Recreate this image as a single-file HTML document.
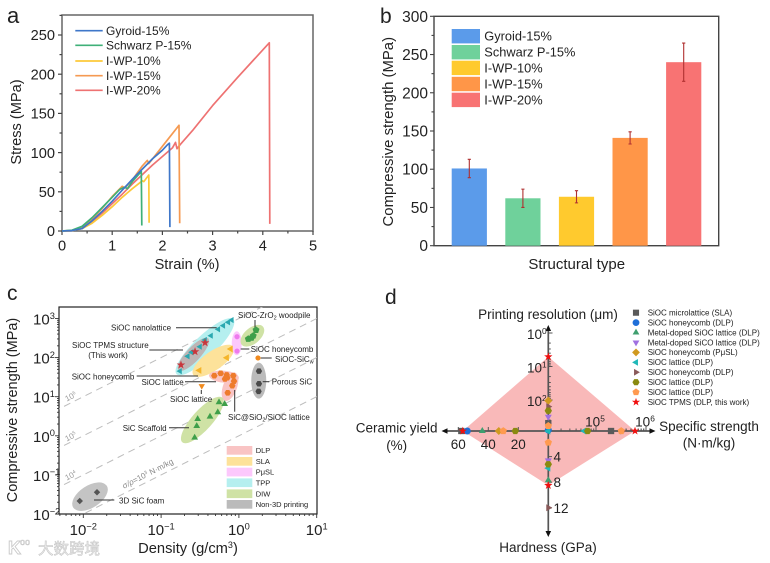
<!DOCTYPE html>
<html lang="en">
<head>
<meta charset="utf-8">
<title>SiOC TPMS mechanical properties</title>
<style>
html,body{margin:0;padding:0;background:#fff;width:770px;height:563px;overflow:hidden}
svg{display:block;filter:blur(0.3px)}
text{font-family:"Liberation Sans","Noto Sans CJK SC",sans-serif;fill:#222}
</style>
</head>
<body>
<svg id="fig" xmlns="http://www.w3.org/2000/svg" width="770" height="563" viewBox="0 0 770 563">
<defs><clipPath id="clip-c"><rect x="59" y="307" width="258" height="207"/></clipPath></defs>
<rect x="0" y="0" width="770" height="563" fill="#fff"/>

<g id="panel-a">
  <text x="7" y="23" font-size="22">a</text>
  <rect x="62" y="15" width="251" height="216" fill="none" stroke="#666" stroke-width="1.5"/>
  <text x="187" y="269" font-size="14.6" text-anchor="middle">Strain (%)</text>
  <text transform="translate(21,122) rotate(-90)" font-size="14.6" text-anchor="middle">Stress (MPa)</text>
</g>

<g id="panel-b">
  <text x="380" y="23" font-size="21">b</text>
  <rect x="434" y="16.3" width="284.7" height="229.4" fill="none" stroke="#444" stroke-width="1.4"/>
  <text x="576.7" y="269" font-size="15" text-anchor="middle">Structural type</text>
  <text transform="translate(393,131.7) rotate(-90)" font-size="14.9" text-anchor="middle">Compressive strength (MPa)</text>
</g>

<g id="panel-c">
  <text x="7" y="300" font-size="21">c</text>
  <rect x="59" y="307" width="258" height="207" fill="none" stroke="#222" stroke-width="1.2"/>
  <g id="c-lines" clip-path="url(#clip-c)"></g>
  <g id="c-regions"></g>
  <g fill="#888">
    <text transform="translate(72,399) rotate(-27)" font-size="8" text-anchor="middle" style="fill:#999">10<tspan dy="-3" font-size="5">6</tspan></text>
    <text transform="translate(72,439) rotate(-27)" font-size="8" text-anchor="middle" style="fill:#999">10<tspan dy="-3" font-size="5">5</tspan></text>
    <text transform="translate(72,478) rotate(-27)" font-size="8" text-anchor="middle" style="fill:#999">10<tspan dy="-3" font-size="5">4</tspan></text>
    <text transform="translate(149,476) rotate(-27)" font-size="8" text-anchor="middle" style="fill:#888"><tspan font-style="italic">σ/ρ</tspan>=10<tspan dy="-3" font-size="5">3</tspan><tspan dy="3"> N·m/kg</tspan></text>
  </g>
  <g font-size="8">
    <text x="111" y="330.5" font-size="8">SiOC nanolattice</text>
    <text x="72" y="348" font-size="8">SiOC TPMS structure</text>
    <text x="108" y="358" font-size="8" text-anchor="middle">(This work)</text>
    <text x="71.7" y="379.5" font-size="8">SiOC honeycomb</text>
    <text x="141.5" y="385" font-size="8">SiOC lattice</text>
    <text x="170" y="402" font-size="8">SiOC lattice</text>
    <text x="122.7" y="431" font-size="8">SiC Scaffold</text>
    <text x="228" y="420" font-size="8">SiC@SiO<tspan dy="1.5" font-size="5.5">2</tspan><tspan dy="-1.5">/SiOC lattice</tspan></text>
    <text x="271.7" y="384.5" font-size="8">Porous SiC</text>
    <text x="275" y="362" font-size="8">SiOC-SiC<tspan dy="1.5" font-size="5.5">w</tspan></text>
    <text x="250.7" y="352" font-size="8">SiOC honeycomb</text>
    <text x="238" y="318" font-size="8">SiOC-ZrO<tspan dy="1.5" font-size="5.5">2</tspan><tspan dy="-1.5"> woodpile</tspan></text>
    <text x="119" y="503.5" font-size="8">3D SiC foam</text>
    <g stroke="#333" stroke-width="1" fill="none">
      <path d="M176 327.7H216.7"/>
      <path d="M149.3 350H183"/>
      <path d="M136.7 376H198"/>
      <path d="M185 381.7H216"/>
      <path d="M201.3 390V394"/>
      <path d="M169 427.7H189"/>
      <path d="M234.7 390V411.7"/>
      <path d="M262.7 381.7H269.3"/>
      <path d="M260.7 358H271.7"/>
      <path d="M240.7 349H249.3"/>
      <path d="M255 320V327.7"/>
      <path d="M94 500H114.3"/>
    </g>
  </g>
  <g font-size="7.5">
    <rect x="226.7" y="446" width="25.6" height="8.7" fill="#f9c4c4"/>
    <rect x="226.7" y="457" width="25.6" height="8.7" fill="#fde29a"/>
    <rect x="226.7" y="467.7" width="25.6" height="8.7" fill="#fcc8fc"/>
    <rect x="226.7" y="478.4" width="25.6" height="8.7" fill="#b5efef"/>
    <rect x="226.7" y="489.4" width="25.6" height="8.7" fill="#cfe2a5"/>
    <rect x="226.7" y="500" width="25.6" height="8.7" fill="#bbb"/>
    <text x="255.7" y="453" font-size="7.5">DLP</text>
    <text x="255.7" y="464" font-size="7.5">SLA</text>
    <text x="255.7" y="474.7" font-size="7.5">PμSL</text>
    <text x="255.7" y="485.4" font-size="7.5">TPP</text>
    <text x="255.7" y="496.4" font-size="7.5">DIW</text>
    <text x="255.7" y="507" font-size="7.5">Non-3D printing</text>
  </g>
  <text x="188" y="553" font-size="14.7" text-anchor="middle">Density (g/cm<tspan dy="-5" font-size="9">3</tspan><tspan dy="5">)</tspan></text>
  <text transform="translate(17,410) rotate(-90)" font-size="14.5" text-anchor="middle">Compressive strength (MPa)</text>
  <g opacity="0.9">
    <text x="8" y="554" font-size="18" font-weight="bold" style="fill:#fff;stroke:#c4c4c4;stroke-width:0.9">K</text>
    <text x="20" y="545" font-size="9" style="fill:#fff;stroke:#c4c4c4;stroke-width:0.6">oo</text>
    <text x="38" y="554" font-size="15.5" style="fill:#ececec;stroke:#bcbcbc;stroke-width:0.5">大数跨境</text>
  </g>
</g>

<g id="panel-d">
  <text x="385" y="304" font-size="21">d</text>
  <text x="548" y="319" font-size="13.5" text-anchor="middle">Printing resolution (μm)</text>
  <text x="396.7" y="432.5" font-size="13.5" text-anchor="middle">Ceramic yield</text>
  <text x="396.7" y="450" font-size="13.5" text-anchor="middle">(%)</text>
  <text x="709" y="431" font-size="13.5" text-anchor="middle">Specific strength</text>
  <text x="709" y="447.7" font-size="13.5" text-anchor="middle">(N·m/kg)</text>
  <text x="548" y="552" font-size="13.5" text-anchor="middle">Hardness (GPa)</text>
  <g id="d-legend"></g>
</g>
</svg>

<script>
// ---------- Panel a data ----------
const curveNames = ['Gyroid-15%', 'Schwarz P-15%', 'I-WP-10%', 'I-WP-15%', 'I-WP-20%'];
const gyroidStrain = [0, .2, .4, .6, .8, 1, 1.2, 1.4, 1.6, 1.8, 2, 2.1, 2.14, 2.15];
const gyroidStress = [0, .5, 3, 13, 25, 38, 52, 66, 79, 92, 103, 110, 112, 5];
const schwarzStrain = [0, .2, .4, .6, .8, 1, 1.15, 1.25, 1.3, 1.4, 1.58, 1.59];
const schwarzStress = [0, 1, 6, 17, 30, 43, 53, 56, 54, 63, 76, 7];
const wp10Strain = [0, .2, .4, .6, .8, 1, 1.2, 1.4, 1.6, 1.63, 1.73, 1.735];
const wp10Stress = [0, .5, 3, 10, 20, 31, 43, 54, 64, 63, 71.4, 10.5];
const wp15Strain = [0, .2, .4, .6, .8, 1, 1.2, 1.25, 1.4, 1.6, 1.7, 1.73, 2, 2.33, 2.345];
const wp15Stress = [0, .5, 5, 15, 29, 44, 57, 55, 65, 83, 90, 86, 108, 134.8, 10];
const wp20Strain = [0, .2, .4, .6, .8, 1, 1.2, 1.4, 1.6, 1.8, 2, 2.2, 2.26, 2.29, 2.35, 2.6, 3, 3.5, 4.13, 4.14];
const wp20Stress = [0, .5, 3, 12, 23, 35, 47, 60, 72, 84, 95, 106, 113, 105, 110, 128, 160, 196, 240, 9];
const aXTicks = [0, 1, 2, 3, 4, 5];
const aYTicks = [0, 50, 100, 150, 200, 250];

// ---------- Panel b data ----------
const barNames = ['Gyroid-15%', 'Schwarz P-15%', 'I-WP-10%', 'I-WP-15%', 'I-WP-20%'];
const barValues = [101, 62, 64, 141, 240];
const barErrors = [12, 12, 8, 8, 25];
const bYTicks = [0, 50, 100, 150, 200, 250, 300];

// ---------- Panel c data ----------
const guideStrengths = [1e3, 1e4, 1e5, 1e6];
const cXExps = [-2, -1, 0, 1];
const cYExps = [-2, -1, 0, 1, 2, 3];
const regionDensity = [0.366, 0.469, 0.938, 1.49, 1.8, 0.643, 0.769, 0.339, 0.26, 0.0122];
const regionStrength = [190, 83, 232, 363, 25.7, 32.5, 18, 2.54, 121, 0.0277];
const tppDensity = [.175, .22, .247, .316, .367, .438, .543, .63, .73, .81];
const tppStrength = [45, 108, 137, 190, 282, 363, 530, 655, 800, 912];
const tpmsDensity = [.18, .273, .367];
const tpmsStrength = [65, 142, 240];
const slaDensity = [.31, .70, .785];
const slaStrength = [47, 99, 166];
const puslDensity = [.946, .946];
const puslStrength = [342, 147];
const woodDensity = [1.66, 1.53, 1.32, 1.45];
const woodStrength = [508, 363, 300, 320];
const sicwDensity = [1.76];
const sicwStrength = [98];
const porousDensity = [1.81, 1.81, 1.79];
const porousStrength = [45, 21.4, 13.7];
const downDensity = [.333];
const downStrength = [18.8];
const dlpDensity = [.483, .583, .697, .662, .71, .847, .865, .822, .718];
const dlpStrength = [34.4, 39.6, 35.9, 28.4, 30.6, 34.4, 25, 19.1, 12.6];
const diwDensity = [.555, .656, .535, .425, .295, .287, .27];
const diwStrength = [7.2, 6.5, 4, 3.08, 2.69, 1.78, .893];
const foamDensity = [.009, .015];
const foamStrength = [.0215, .036];

// ---------- Panel d data ----------
const seriesNames = ['SiOC microlattice (SLA)', 'SiOC honeycomb (DLP)', 'Metal-doped SiOC lattice (DLP)', 'Metal-doped SiCO lattice (DLP)', 'SiOC honeycomb (PμSL)', 'SiOC lattice (DLP)', 'SiOC honeycomb (DLP)', 'SiOC lattice (DLP)', 'SiOC lattice (DLP)', 'SiOC TPMS (DLP, this work)'];
const seriesStrength = [2e5, null, null, null, null, 5.8e4, 3.4e5, 6.8e4, 3.2e5, 6.03e5];
const seriesResolution = [490, 790, null, 316, 105, 850, 158, 209, 590, 5.1];
const seriesHardness = [null, null, 7.7, 4.6, null, 5.8, 12, 5.2, 1.8, 8.5];
const seriesYield = [58, 54, 44, null, 33, null, null, 22, 30, 57];
const dYieldTicks = [20, 40, 60];
const dHardTicks = [4, 8, 12];
const dResExps = [0, 1, 2];
const dStrExps = [5, 6];

// ---------- helpers ----------
const NS = 'http://www.w3.org/2000/svg';
const root = document.getElementById('fig');
function mk(tag, attrs, parent) {
  const el = document.createElementNS(NS, tag);
  for (const k in attrs) el.setAttribute(k, attrs[k]);
  (parent || root).appendChild(el);
  return el;
}
function txt(parent, x, y, str, size, anchor, sup) {
  const t = mk('text', {x: x, y: y, 'font-size': size, 'text-anchor': anchor}, parent);
  t.textContent = str;
  if (sup !== undefined) {
    const s = mk('tspan', {dy: -size * 0.38, 'font-size': size * 0.62}, t);
    s.textContent = sup;
  }
  return t;
}
function polyPts(n, r, rot, cx, cy) {
  const out = [];
  for (let i = 0; i < n; i++) {
    const a = rot + i * 2 * Math.PI / n;
    out.push((cx + r * Math.cos(a)).toFixed(2) + ',' + (cy + r * Math.sin(a)).toFixed(2));
  }
  return out.join(' ');
}
function marker(parent, shape, cx, cy, r, color) {
  if (shape === 'circle') return mk('circle', {cx: cx, cy: cy, r: r, fill: color}, parent);
  if (shape === 'square') return mk('rect', {x: cx - r * .9, y: cy - r * .9, width: r * 1.8, height: r * 1.8, fill: color}, parent);
  let pts;
  if (shape === 'up') pts = polyPts(3, r * 1.15, -Math.PI / 2, cx, cy);
  else if (shape === 'down') pts = polyPts(3, r * 1.15, Math.PI / 2, cx, cy);
  else if (shape === 'left') pts = polyPts(3, r * 1.15, Math.PI, cx, cy);
  else if (shape === 'right') pts = polyPts(3, r * 1.15, 0, cx, cy);
  else if (shape === 'diamond') pts = polyPts(4, r * 1.15, 0, cx, cy);
  else if (shape === 'hex') pts = polyPts(6, r * 1.05, 0, cx, cy);
  else if (shape === 'pent') pts = polyPts(5, r * 1.1, -Math.PI / 2, cx, cy);
  else if (shape === 'star') {
    const o = [];
    for (let i = 0; i < 10; i++) {
      const a = -Math.PI / 2 + i * Math.PI / 5, q = i % 2 ? r * .5 : r * 1.25;
      o.push((cx + q * Math.cos(a)).toFixed(2) + ',' + (cy + q * Math.sin(a)).toFixed(2));
    }
    pts = o.join(' ');
  }
  return mk('polygon', {points: pts, fill: color}, parent);
}

// ---------- Panel a ----------
(function () {
  const g = document.getElementById('panel-a');
  const x = v => 62 + v * 50.2;
  const y = v => 231 - v * 0.784;
  for (let v = 0; v <= 5; v += .5) {
    const major = aXTicks.includes(v);
    const t = mk('line', {x1: x(v), x2: x(v), y1: 231, y2: major ? 235 : 233.5, stroke: '#444', 'stroke-width': 1.2}, g);
    
    
  }
  for (let v = 0; v <= 275; v += 25) {
    const major = aYTicks.includes(v);
    const t = mk('line', {x1: 62, x2: major ? 58 : 59.5, y1: y(v), y2: y(v), stroke: '#444', 'stroke-width': 1.2}, g);
    
    
  }
  aXTicks.forEach(v => {
    const t = txt(g, x(v), 250.5, String(v), 14.6, 'middle');
    
    
  });
  aYTicks.forEach(v => {
    const t = txt(g, 55, y(v) + 5.2, String(v), 14.6, 'end');
    
    
  });
  const xs = [gyroidStrain, schwarzStrain, wp10Strain, wp15Strain, wp20Strain];
  const ys = [gyroidStress, schwarzStress, wp10Stress, wp15Stress, wp20Stress];
  const colors = ['#3f77c9', '#3fb078', '#fdc93a', '#f59a52', '#ee7272'];
  const legendY = [30.7, 45.3, 61, 75.7, 90.3];
  [4, 3, 2, 1, 0].forEach(i => {
    const d = xs[i].map((v, j) => (j ? 'L' : 'M') + x(v).toFixed(1) + ' ' + y(ys[i][j]).toFixed(1)).join('');
    const p = mk('path', {d: d, fill: 'none', stroke: colors[i], 'stroke-width': 1.7, 'stroke-linejoin': 'round'}, g);
    
    
  });
  curveNames.forEach((n, i) => {
    const l = mk('line', {x1: 75.3, x2: 102.7, y1: legendY[i], y2: legendY[i], stroke: colors[i], 'stroke-width': 1.7}, g);
    
    
    const t = txt(g, 106, legendY[i] + 4.2, n, 12, 'start');
    
    
  });
})();

// ---------- Panel b ----------
(function () {
  const g = document.getElementById('panel-b');
  const y = v => 245.7 - v * 229.4 / 300;
  const x = i => 469.3 + i * 53.6;
  const colors = ['#5b9bea', '#6fd19b', '#ffca2e', '#ff9648', '#f87373'];
  for (let v = 0; v <= 300; v += 25) {
    const major = bYTicks.includes(v);
    const t = mk('line', {x1: 434, x2: major ? 430 : 431.5, y1: y(v), y2: y(v), stroke: '#444', 'stroke-width': 1.1}, g);
    
    
  }
  bYTicks.forEach(v => {
    const t = txt(g, 428, y(v) + 5.5, String(v), 15.5, 'end');
    
    
  });
  barValues.forEach((v, i) => {
    const r = mk('rect', {x: x(i) - 17.6, y: y(v), width: 35.2, height: y(0) - y(v), fill: colors[i]}, g);
    
    
    const top = y(v + barErrors[i]), bot = y(v - barErrors[i]);
    const e = mk('path', {d: 'M' + x(i) + ' ' + top + 'V' + bot + 'M' + (x(i) - 1.6) + ' ' + top + 'h3.2M' + (x(i) - 1.6) + ' ' + bot + 'h3.2', stroke: '#b03030', 'stroke-width': 1.1, fill: 'none'}, g);
    
    
  });
  const ly = [36.2, 52.2, 67.9, 84, 99.9];
  barNames.forEach((n, i) => {
    const s = mk('rect', {x: 451.7, y: ly[i] - 7.2, width: 28.3, height: 14.4, fill: colors[i]}, g);
    
    
    const t = txt(g, 484.3, ly[i] + 4.5, n, 12.8, 'start');
    
    
  });
})();

// ---------- Panel c ----------
(function () {
  const g = document.getElementById('panel-c');
  const x = d => 83.3 + 77.8 * (Math.log10(d) + 2);
  const y = s => 514 - 39.1 * (Math.log10(s) + 2);
  const lines = document.getElementById('c-lines');
  guideStrengths.forEach(sp => {
    const r1 = 0.003, r2 = 15;
    const l = mk('line', {x1: x(r1), y1: y(r1 * sp / 1000), x2: x(r2), y2: y(r2 * sp / 1000), stroke: '#bdbdbd', 'stroke-width': 1, 'stroke-dasharray': '7 5'}, lines);
    
    
  });
  const regs = document.getElementById('c-regions');
  const regionFill = ['#b5efef', '#fde29a', '#fcc8fc', '#cfe2a5', '#bbb', '#f9c4c4', '#f9c4c4', '#cfe2a5', '#bdb5b5', '#c4c4c4'];
  const regionRx = [39.5, 24.5, 5, 14, 7.5, 15, 7, 30, 21.8, 20];
  const regionRy = [11, 9.5, 12, 8, 18, 6, 15, 10, 7, 11];
  const regionRot = [-44, -35, 0, -40, 0, 5, 20, -48, -47, -33];
  regionDensity.forEach((d, i) => {
    const cx = x(d), cy = y(regionStrength[i]);
    const e = mk('ellipse', {cx: cx, cy: cy, rx: regionRx[i], ry: regionRy[i], fill: regionFill[i], transform: 'rotate(' + regionRot[i] + ' ' + cx + ' ' + cy + ')'}, regs);
    
    
  });
  const groups = [
    [tppDensity, tppStrength, 'left', '#2aa8b0', 3.1],
    [tpmsDensity, tpmsStrength, 'star', '#c8363c', 3.6],
    [slaDensity, slaStrength, 'left', '#f5b52a', 3.5],
    [puslDensity, puslStrength, 'circle', '#ee7aee', 2.6],
    [woodDensity, woodStrength, 'pent', '#3f9f4a', 3.3],
    [sicwDensity, sicwStrength, 'circle', '#f08a1e', 2.6],
    [porousDensity, porousStrength, 'hex', '#4a4a4a', 3],
    [downDensity, downStrength, 'down', '#f08a1e', 3.2],
    [dlpDensity, dlpStrength, 'hex', '#ee7b2c', 3.1],
    [diwDensity, diwStrength, 'up', '#3f9f4a', 3.4],
    [foamDensity, foamStrength, 'diamond', '#555', 2.8]
  ];
  groups.forEach(gr => {
    gr[0].forEach((d, i) => {
      const m = marker(g, gr[2], x(d), y(gr[1][i]), gr[4], gr[3]);
      
      
    });
  });
  const mult = [1, 2, 3, 4, 5, 6, 7, 8, 9];
  for (let e = -3; e <= 0; e++) mult.forEach(m => {
    const v = m * Math.pow(10, e);
    if (x(v) < 59 || x(v) > 317) return;
    const t = mk('line', {x1: x(v), x2: x(v), y1: 514, y2: m === 1 ? 518 : 516, stroke: '#333', 'stroke-width': .9}, g);
    
    
  });
  const rt = mk('line', {x1: 316.7, x2: 316.7, y1: 514, y2: 518, stroke: '#333', 'stroke-width': .9}, g);
  
  
  for (let e = -2; e <= 3; e++) mult.forEach(m => {
    const v = m * Math.pow(10, e);
    if (y(v) < 307) return;
    const t = mk('line', {x1: 59, x2: m === 1 ? 55 : 57, y1: y(v), y2: y(v), stroke: '#333', 'stroke-width': .9}, g);
    
    
  });
  cXExps.forEach(e => {
    const v = Math.pow(10, e);
    const t = txt(g, x(v), 535, '10', 15, 'middle', e < 0 ? '−' + (-e) : String(e));
    
    
  });
  cYExps.forEach(e => {
    const v = Math.pow(10, e);
    const t = txt(g, 33, y(v) + 6, '10', 15, 'start', e < 0 ? '−' + (-e) : String(e));
    
    
  });
})();

// ---------- Panel d ----------
(function () {
  const g = document.getElementById('panel-d');
  const xYield = v => 548.3 - v * 1.5;
  const xStr = v => 596 + 50 * (Math.log10(v) - 5);
  const yRes = v => 333 + 33.5 * Math.log10(v);
  const yHard = v => 431 + v * 6.4;
  const star = seriesNames.length - 1;
  const poly = [
    [548.3, yRes(seriesResolution[star])],
    [xStr(seriesStrength[star]), 431],
    [548.3, yHard(seriesHardness[star])],
    [xYield(seriesYield[star]), 431]
  ];
  const pg = mk('polygon', {points: poly.map(p => p.join(',')).join(' '), fill: '#f9b9b9'}, g);
  
  
  const ax = mk('path', {d: 'M548.3 330V533M446 431H651', stroke: '#555', 'stroke-width': 1.7, fill: 'none'}, g);
  
  
  const ah = mk('path', {d: 'M548.3 325l-2.8 6h5.6zM548.3 537l-2.8 -6h5.6zM441.5 431l6 -2.8v5.6zM655.5 431l-6 -2.8v5.6z', fill: '#111'}, g);
  
  
  function tick(x1, y1, x2, y2) {
    const t = mk('line', {x1: x1, y1: y1, x2: x2, y2: y2, stroke: '#555', 'stroke-width': 1}, g);
    
    
  }
  dYieldTicks.forEach(v => {
    tick(xYield(v), 431, xYield(v), 427);
    const t = txt(g, xYield(v), 449, String(v), 13.5, 'middle');
    
    
  });
  dHardTicks.forEach(v => {
    tick(548.3, yHard(v), 552, yHard(v));
    const t = txt(g, 553.5, yHard(v) + 5, String(v), 13.5, 'start');
    
    
  });
  dResExps.forEach(e => {
    const v = Math.pow(10, e);
    tick(548.3, yRes(v), 552.5, yRes(v));
    for (let m = 2; m < 10; m++) tick(548.3, yRes(v * m), 550.8, yRes(v * m));
    const t = txt(g, 527, yRes(v) + 6, '10', 13.5, 'start', String(e));
    
    
  });
  dStrExps.forEach(e => {
    const v = Math.pow(10, e);
    tick(xStr(v), 431, xStr(v), 426.5);
    if (e === 5) for (let m = 2; m < 10; m++) tick(xStr(v * m), 431, xStr(v * m), 428.5);
    for (let m = 2; m < 10; m++) tick(xStr(v * m / 10), 431, xStr(v * m / 10), 428.5);
    const t = txt(g, xStr(v) - 1, 426.5, '10', 13.5, 'middle', String(e));
    
    
  });
  const shapes = ['square', 'circle', 'up', 'down', 'diamond', 'left', 'right', 'hex', 'pent', 'star'];
  const colors = ['#5a5a5a', '#1f6fd8', '#3f9f6f', '#a070e0', '#d09a20', '#20b8b8', '#8a5a5a', '#8a8a10', '#ff9a50', '#f01010'];
  seriesNames.forEach((n, i) => {
    const c = colors[i], sh = shapes[i], r = 3.5;
    if (seriesStrength[i] !== null) {
      const m = marker(g, sh, xStr(seriesStrength[i]), 431, r, c);
      
      
    }
    if (seriesResolution[i] !== null) {
      const m = marker(g, sh, 548.3, yRes(seriesResolution[i]), r, c);
      
      
    }
    if (seriesHardness[i] !== null) {
      const m = marker(g, sh, 548.3, yHard(seriesHardness[i]), r, c);
      
      
    }
    if (seriesYield[i] !== null) {
      const m = marker(g, sh, xYield(seriesYield[i]), 431, r, c);
      
      
    }
  });
  const lg = document.getElementById('d-legend');
  seriesNames.forEach((n, i) => {
    const ly = 312.7 + i * 9.93;
    const m = marker(lg, shapes[i], 636, ly, 3.4, colors[i]);
    
    
    const t = txt(lg, 647.7, ly + 2.8, n, 8, 'start');
    
    
  });
})();
</script>
</body>
</html>
